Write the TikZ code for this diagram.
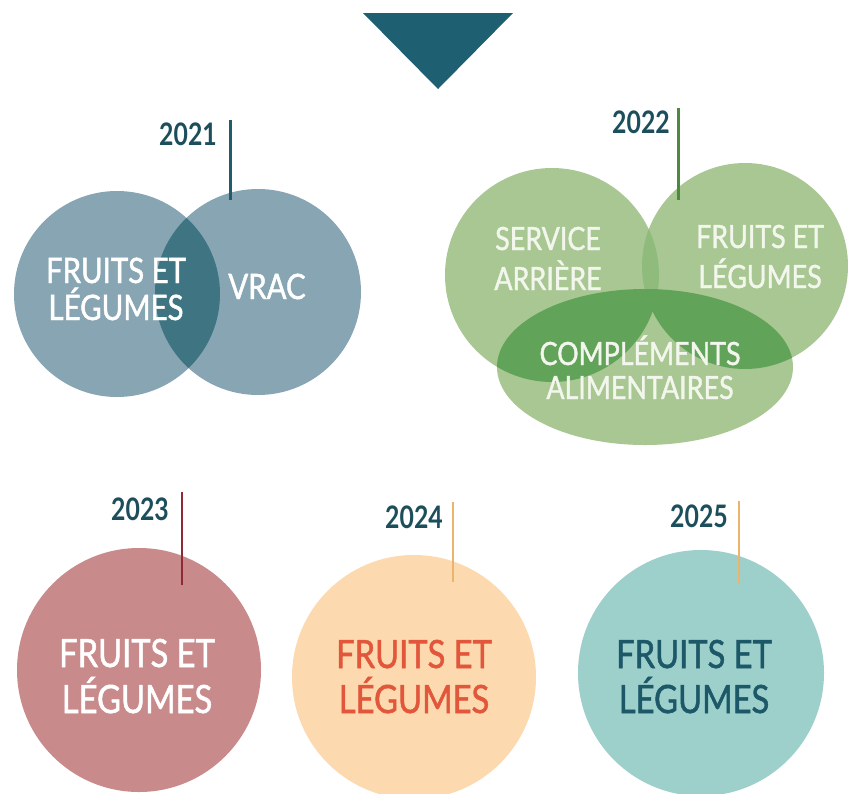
\documentclass[tikz,border=0pt]{standalone}
\usepackage{fontspec}
\setmainfont{Lato}
\newfontfamily\lab[FakeStretch=0.84, FakeBold=1.3]{Lato}
\newfontfamily\laby[FakeStretch=0.8]{Lato Bold}
\definecolor{tri}{HTML}{1E5F71}
\definecolor{b21}{HTML}{88A5B3}
\definecolor{b21d}{HTML}{3F7482}
\definecolor{yr}{HTML}{1C4E5C}
\definecolor{ln21}{HTML}{1F5C6C}
\definecolor{g1}{HTML}{A8C792}
\definecolor{g2}{HTML}{62A35A}
\definecolor{g3}{HTML}{8FBC7C}
\definecolor{ln22}{HTML}{4C8B3C}
\definecolor{gt}{HTML}{F2F6EC}
\definecolor{r23}{HTML}{C98A8B}
\definecolor{ln23}{HTML}{8E2A36}
\definecolor{o24}{HTML}{FCD9AE}
\definecolor{t24}{HTML}{E2573B}
\definecolor{gold}{HTML}{EBB46C}
\definecolor{c25}{HTML}{9DCFCB}
\definecolor{t25}{HTML}{1D5868}
\tikzset{
  disc/.style={circle, inner sep=0pt, minimum size=#1},
  year/.style={anchor=base, inner sep=0pt, text=yr, font=\laby\fontsize{31}{31}\selectfont},
  txa/.style={anchor=base, inner sep=0pt, text=white, font=\lab\fontsize{35}{35}\selectfont},
  txg/.style={anchor=base, inner sep=0pt, text=gt, font=\lab\fontsize{32}{32}\selectfont},
  txb/.style={anchor=base, inner sep=0pt, font=\lab\fontsize{39}{39}\selectfont},
  tick/.style={line width=3pt},
}
\begin{document}
\begin{tikzpicture}[x=1pt,y=-1pt]
\useasboundingbox (0,0) rectangle (851,793);
\fill[white] (0,0) rectangle (851,793);
% top triangle
\fill[tri] (363,13) -- (513,13) -- (438,89) -- cycle;

% ---------- 2021 ----------
\node[disc=206, fill=b21] (a1) at (117,294) {};
\node[disc=206, fill=b21] (a2) at (258,292) {};
\begin{scope}
  \clip (117,294) circle (103);
  \fill[b21d] (258,292) circle (103);
\end{scope}
\node[year] (y21) at (188,145) {2021};
\coordinate (t21a) at (230,120);
\coordinate (t21b) at (230,200);
\draw[tick, ln21] (t21a) -- (t21b);
\node[txa] (a1l1) at (116,283) {FRUITS ET};
\node[txa] (a1l2) at (116,320) {LÉGUMES};
\node[txa] (a2l1) at (267,299) {VRAC};

% ---------- 2022 ----------
\node[disc=214, fill=g1] (g1c) at (552,275) {};
\node[disc=206, fill=g1] (g2c) at (745,266) {};
\fill[g1] (645,367) ellipse (148 and 78);
\coordinate (g3c) at (645,367);
\begin{scope}
  \clip (552,275) circle (107);
  \fill[g3] (745,266) circle (103);
\end{scope}
\begin{scope}
  \clip (645,367) ellipse (148 and 78);
  \fill[g2] (552,275) circle (107);
  \fill[g2] (745,266) circle (103);
\end{scope}
\node[year] (y22) at (641,133) {2022};
\coordinate (t22a) at (678,108);
\coordinate (t22b) at (678,200);
\draw[tick, ln22] (t22a) -- (t22b);
\node[txg] (g1l1) at (548,250) {SERVICE};
\node[txg] (g1l2) at (548,290) {ARRIÈRE};
\node[txg] (g2l1) at (760,248) {FRUITS ET};
\node[txg] (g2l2) at (760,288) {LÉGUMES};
\node[txg] (g3l1) at (640,365) {COMPLÉMENTS};
\node[txg] (g3l2) at (640,399) {ALIMENTAIRES};

% ---------- 2023 ----------
\node[disc=244, fill=r23] (c23) at (139,670) {};
\node[year] (y23) at (140,520) {2023};
\coordinate (t23a) at (182,492);
\coordinate (t23b) at (182,585);
\draw[tick, line width=2.5pt, ln23] (t23a) -- (t23b);
\node[txb, text=white] (c23l1) at (137,667) {FRUITS ET};
\node[txb, text=white] (c23l2) at (137,713) {LÉGUMES};

% ---------- 2024 ----------
\node[disc=244, fill=o24] (c24) at (414,677) {};
\node[year] (y24) at (414,528) {2024};
\coordinate (t24a) at (453,502);
\coordinate (t24b) at (453,582);
\draw[tick, line width=2.5pt, gold] (t24a) -- (t24b);
\node[txb, text=t24] (c24l1) at (414,668) {FRUITS ET};
\node[txb, text=t24] (c24l2) at (414,713) {LÉGUMES};

% ---------- 2025 ----------
\node[disc=246, fill=c25] (c25) at (701,673) {};
\node[year] (y25) at (699,527) {2025};
\coordinate (t25a) at (739,501);
\coordinate (t25b) at (739,583);
\draw[tick, line width=2.5pt, gold] (t25a) -- (t25b);
\node[txb, text=t25] (c25l1) at (694,668) {FRUITS ET};
\node[txb, text=t25] (c25l2) at (694,713) {LÉGUMES};
\end{tikzpicture}
\end{document}
